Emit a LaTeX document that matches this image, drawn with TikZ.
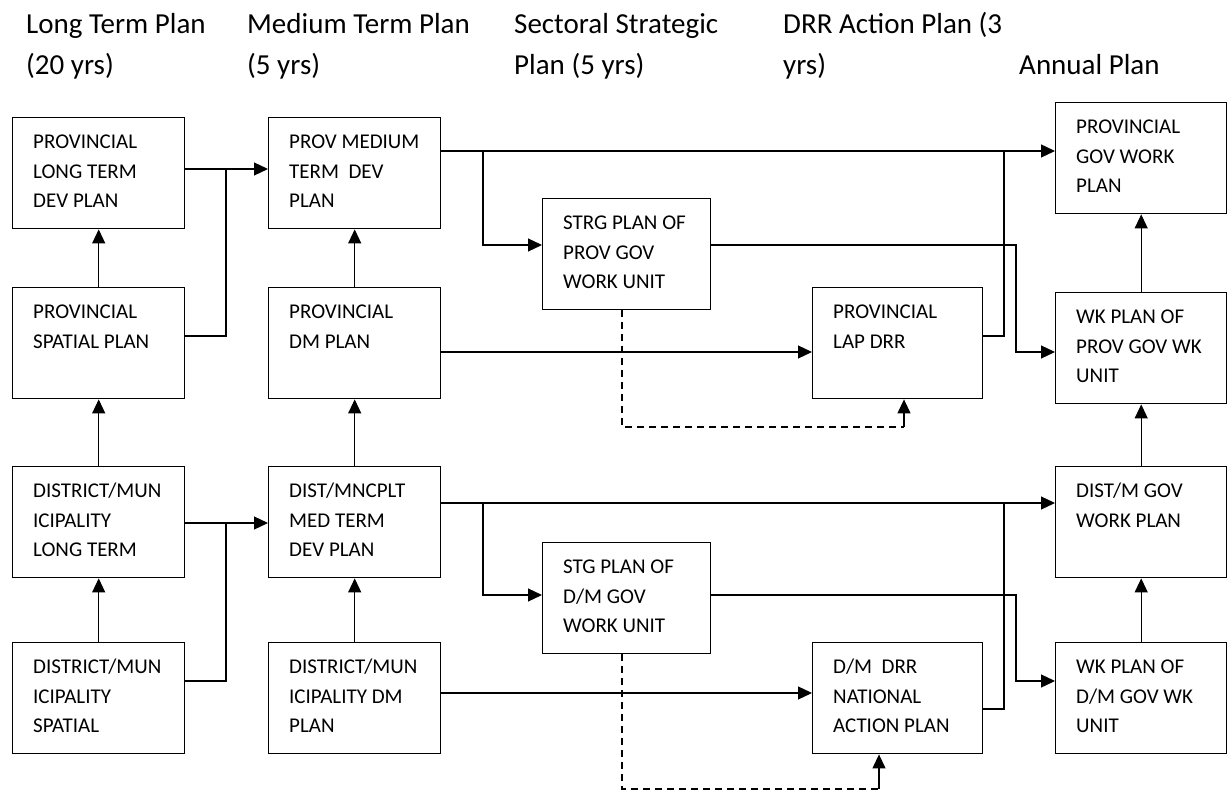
\documentclass[tikz,border=0pt]{standalone}
\usepackage{fontspec}
\setmainfont{Carlito}
\usetikzlibrary{arrows.meta}
\newcommand\boxlines[1]{\parbox[t]{170pt}{\raggedright #1}}
\newcommand\headlines[1]{\parbox[t]{260pt}{\raggedright #1}}
\begin{document}
\begin{tikzpicture}[x=1pt,y=-1pt,
  box/.style={draw, line width=1.4pt, minimum width=172pt, minimum height=111pt,
              anchor=north west, inner sep=0pt},
  boxtext/.style={anchor=base west, inner sep=0pt, font=\fontsize{21pt}{29.5pt}\selectfont},
  head/.style={anchor=base west, inner sep=0pt, font=\fontsize{29pt}{41pt}\selectfont},
  link/.style={line width=1.2pt},
  arr/.style={link, -{Triangle[length=14pt,width=13pt]}},
  dashlink/.style={link, dash pattern=on 7pt off 5pt},
]
\useasboundingbox (0,0) rectangle (1228,791);

% column headings
\node[head] (h1) at (26,34) {\headlines{Long Term Plan\\(20 yrs)}};
\node[head] (h2) at (247,34) {\headlines{Medium Term Plan\\(5 yrs)}};
\node[head] (h3) at (514,34) {\headlines{Sectoral Strategic\\Plan (5 yrs)}};
\node[head] (h4) at (783,34) {\headlines{DRR Action Plan (3\\yrs)}};
\node[head] (h5) at (1019,75) {Annual Plan};

% boxes
\node[box] (a1) at (12,117) {};
\node[box] (a2) at (12,287) {};
\node[box] (a3) at (12,466) {};
\node[box] (a4) at (12,642) {};
\node[box] (b1) at (268,117) {};
\node[box] (b2) at (268,287) {};
\node[box] (b3) at (268,466) {};
\node[box] (b4) at (268,642) {};
\node[box, minimum width=168pt] (c1) at (542,198) {};
\node[box, minimum width=168pt] (c2) at (542,542) {};
\node[box, minimum width=170pt] (d1) at (812,287) {};
\node[box, minimum width=170pt] (d2) at (812,642) {};
\node[box, minimum width=171pt] (e1) at (1055,102) {};
\node[box, minimum width=171pt] (e2) at (1055,292) {};
\node[box, minimum width=171pt] (e3) at (1055,466) {};
\node[box, minimum width=171pt] (e4) at (1055,642) {};

% box texts
\node[boxtext] (a1t) at ([shift={(21pt,-31.8pt)}]a1.north west) {\boxlines{PROVINCIAL\\LONG TERM\\DEV PLAN}};
\node[boxtext] (a2t) at ([shift={(21pt,-31.8pt)}]a2.north west) {\boxlines{PROVINCIAL\\SPATIAL PLAN}};
\node[boxtext] (a3t) at ([shift={(21pt,-31.8pt)}]a3.north west) {\boxlines{DISTRICT/MUN\\ICIPALITY\\LONG TERM}};
\node[boxtext] (a4t) at ([shift={(21pt,-31.8pt)}]a4.north west) {\boxlines{DISTRICT/MUN\\ICIPALITY\\SPATIAL}};
\node[boxtext] (b1t) at ([shift={(21pt,-31.8pt)}]b1.north west) {\boxlines{PROV MEDIUM\\TERM\ \ DEV\\PLAN}};
\node[boxtext] (b2t) at ([shift={(21pt,-31.8pt)}]b2.north west) {\boxlines{PROVINCIAL\\DM PLAN}};
\node[boxtext] (b3t) at ([shift={(21pt,-31.8pt)}]b3.north west) {\boxlines{DIST/MNCPLT\\MED TERM\\DEV PLAN}};
\node[boxtext] (b4t) at ([shift={(21pt,-31.8pt)}]b4.north west) {\boxlines{DISTRICT/MUN\\ICIPALITY DM\\PLAN}};
\node[boxtext] (c1t) at ([shift={(21pt,-31.8pt)}]c1.north west) {\boxlines{STRG PLAN OF\\PROV GOV\\WORK UNIT}};
\node[boxtext] (c2t) at ([shift={(21pt,-31.8pt)}]c2.north west) {\boxlines{STG PLAN OF\\D/M GOV\\WORK UNIT}};
\node[boxtext] (d1t) at ([shift={(21pt,-31.8pt)}]d1.north west) {\boxlines{PROVINCIAL\\LAP DRR}};
\node[boxtext] (d2t) at ([shift={(21pt,-31.8pt)}]d2.north west) {\boxlines{D/M\ \ DRR\\NATIONAL\\ACTION PLAN}};
\node[boxtext] (e1t) at ([shift={(21pt,-31.8pt)}]e1.north west) {\boxlines{PROVINCIAL\\GOV WORK\\PLAN}};
\node[boxtext] (e2t) at ([shift={(21pt,-31.8pt)}]e2.north west) {\boxlines{WK PLAN OF\\PROV GOV WK\\UNIT}};
\node[boxtext] (e3t) at ([shift={(21pt,-31.8pt)}]e3.north west) {\boxlines{DIST/M GOV\\WORK PLAN}};
\node[boxtext] (e4t) at ([shift={(21pt,-31.8pt)}]e4.north west) {\boxlines{WK PLAN OF\\D/M GOV WK\\UNIT}};

% junction points
\coordinate (j1) at (226,169);
\coordinate (j2) at (226,523);
\coordinate (k1) at (483,151);
\coordinate (k2) at (483,503);

% long term column
\draw[arr] (a2.north) -- (a1.south);
\draw[arr] (a3.north) -- (a2.south);
\draw[arr] (a4.north) -- (a3.south);
\draw[arr] (a1.east |- j1) -- (b1.west |- j1);
\draw[link] (a2.east |- 0,336) -| (j1);
\draw[arr] (a3.east |- j2) -- (b3.west |- j2);
\draw[link] (a4.east |- 0,681) -| (j2);

% medium term column
\draw[arr] (b2.north) -- (b1.south);
\draw[arr] (b3.north) -- (b2.south);
\draw[arr] (b4.north) -- (b3.south);

% provincial level
\draw[arr] (b1.east |- k1) -- (e1.west |- k1);
\draw[arr] (k1) |- (c1.west |- 0,245);
\draw[arr] (b2.east |- 0,352) -- (d1.west |- 0,352);
\draw[arr] (c1.east |- 0,245) -- (1016,245) -- (1016,352) -- (e2.west |- 0,352);
\draw[link] (d1.east |- 0,336) -| (1004,151);
\draw[dashlink] (c1.south -| 622,0) -- (622,427) -- (904,427);
\draw[arr] (904,427) -- (d1.south -| 904,0);

% district / municipality level
\draw[arr] (b3.east |- k2) -- (e3.west |- k2);
\draw[arr] (k2) |- (c2.west |- 0,595);
\draw[arr] (b4.east |- 0,693) -- (d2.west |- 0,693);
\draw[arr] (c2.east |- 0,595) -- (1016,595) -- (1016,681) -- (e4.west |- 0,681);
\draw[link] (d2.east |- 0,709) -| (1004,503);
\draw[dashlink] (c2.south -| 622,0) -- (622,789) -- (879,789);
\draw[arr] (879,789) -- (d2.south -| 879,0);

% annual plan column
\draw[arr] (e2.north) -- (e1.south);
\draw[arr] (e3.north) -- (e2.south);
\draw[arr] (e4.north) -- (e3.south);
\end{tikzpicture}
\end{document}
